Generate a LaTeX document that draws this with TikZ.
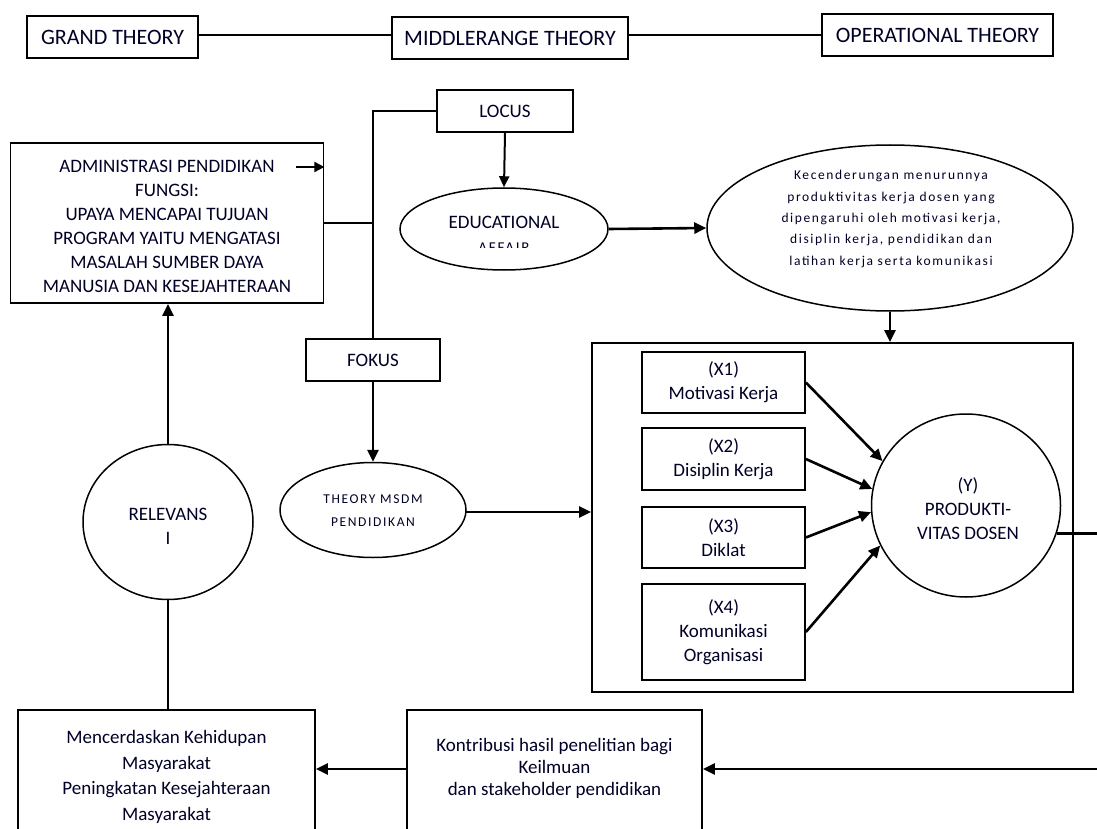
\documentclass[tikz,border=0pt]{standalone}
\usepackage{fontspec}
\setmainfont{Carlito}
\newfontfamily\spaced[LetterSpace=12]{Carlito}
\usetikzlibrary{arrows.meta,shapes.geometric}
\begin{document}
\begin{tikzpicture}[x=1pt,y=-1pt,
  box/.style={draw,line width=1.8pt,align=center,inner sep=0pt,text=black!85!blue,
    font=\fontsize{19}{24}\selectfont},
  topbox/.style={box,font=\fontsize{22}{26}\selectfont},
  oval/.style={ellipse,draw,line width=1.5pt,align=center,inner sep=0pt,text=black!85!blue},
  conn/.style={line width=2.6pt},
  arr/.style={line width=2.6pt,-{Triangle[length=12pt,width=11pt]}},
  txt/.style={align=center,inner sep=0pt,text=black!85!blue,font=\fontsize{19}{24}\selectfont}
]
\useasboundingbox (0,0) rectangle (1097,829);
\clip (0,0) rectangle (1097,829);

% top row
\node[topbox,minimum width=171,minimum height=42] (grand) at (112.5,37) {GRAND THEORY};
\node[topbox,minimum width=236,minimum height=42] (middle) at (510,38) {MIDDLERANGE THEORY};
\node[topbox,minimum width=231,minimum height=42] (oper) at (937.5,35) {OPERATIONAL THEORY};
\coordinate (tl) at (0,35);
\draw[conn] (grand.east |- tl) -- (middle.west |- tl);
\draw[conn] (middle.east |- tl) -- (oper.west |- tl);

% admin box
\node[box,minimum width=313,minimum height=160] (admin) at (167,223) {};
\node[txt] (admintxt) at (167,226) {ADMINISTRASI PENDIDIKAN\\FUNGSI:\\UPAYA MENCAPAI TUJUAN\\PROGRAM YAITU MENGATASI\\MASALAH SUMBER DAYA\\MANUSIA DAN KESEJAHTERAAN};
\coordinate (sa) at (296,167);
\draw[line width=1.8pt,-{Triangle[length=10pt,width=10pt]}] (sa) -- (sa -| admin.east);

% locus / fokus
\node[box,minimum width=136,minimum height=42] (locus) at (505,111) {LOCUS};
\node[box,minimum width=134,minimum height=42] (fokus) at (373,360) {FOKUS};
\draw[conn] (locus.west) -| (fokus.north);
\draw[conn] (admin.east) -- (admin.east -| fokus.north);

% educational affair
\node[oval,minimum width=208,minimum height=82] (edu) at (504,229) {};
\node[txt] (edut) at (504,222) {EDUCATIONAL};
\begin{scope}
\clip (400,238) rectangle (608,247);
\node[txt,anchor=base,font=\spaced\fontsize{15}{18}\selectfont] (eduaff) at (504,252) {AFFAIR};
\end{scope}
\draw[line width=2pt,-{Triangle[length=11pt,width=10pt]}] (locus.south) -- (edu.north);

% big ellipse
\node[oval,minimum width=366,minimum height=166] (big) at (890,228) {};
\node[txt,font=\spaced\fontsize{13.5}{21.3}\selectfont] (bigt) at (891,219) {Kecenderungan menurunnya\\produktivitas kerja dosen yang\\dipengaruhi oleh motivasi kerja,\\disiplin kerja, pendidikan dan\\latihan kerja serta komunikasi};
\draw[arr] (edu.east) -- (big.west);

% frame
\node[draw,line width=1.8pt,minimum width=481,minimum height=349,inner sep=0pt] (frame) at (832.5,517.5) {};
\draw[arr] (big.south) -- (frame.north -| big.south);

% theory msdm
\node[oval,minimum width=186,minimum height=95] (theory) at (373,510) {};
\node[txt,font=\spaced\fontsize{13.5}{23}\selectfont] (theoryt) at (373,511) {THEORY MSDM\\PENDIDIKAN};
\draw[arr] (fokus.south) -- (theory.north);
\coordinate (tw) at (465,512);
\draw[arr] (tw) -- (tw -| frame.west);

% X boxes
\node[box,minimum width=163,minimum height=61] (x1) at (723.5,382.5) {(X1)\\Motivasi Kerja};
\node[box,minimum width=163,minimum height=62] (x2) at (723.5,459) {(X2)\\Disiplin Kerja};
\node[box,minimum width=163,minimum height=61] (x3) at (723.5,537.5) {(X3)\\Diklat};
\node[box,minimum width=163,minimum height=96] (x4) at (723.5,632) {(X4)\\Komunikasi\\Organisasi};

% Y
\node[oval,minimum width=189,minimum height=183] (y) at (966,505.5) {};
\node[txt] (yt) at (968,509) {(Y)\\PRODUKTI-\\VITAS DOSEN};
\draw[arr] (x1.east) -- (y.152);
\draw[arr] (x2.east) -- (y.170);
\draw[arr] (x3.east) -- (y.184);
\draw[arr] (x4.east) -- (y.205);
\coordinate (r1) at (1100,532);
\draw[conn] (y.-17) -- (y.-17 -| r1);

% bottom row
\node[box,minimum width=295,minimum height=140] (kon) at (554.5,780) {};
\node[txt,font=\fontsize{19}{22}\selectfont] (kont) at (554.5,768) {Kontribusi hasil penelitian bagi\\Keilmuan\\dan stakeholder pendidikan};
\node[box,minimum width=297,minimum height=140] (men) at (166.5,780) {};
\node[txt,font=\fontsize{19}{25.5}\selectfont] (ment) at (166.5,777) {Mencerdaskan Kehidupan\\Masyarakat\\Peningkatan Kesejahteraan\\Masyarakat};
\coordinate (r2) at (1100,769);
\draw[arr] (r2) -- (r2 -| kon.east);
\coordinate (kw) at (407,769);
\draw[arr] (kw) -- (kw -| men.east);

% relevansi
\node[oval,minimum width=170,minimum height=155] (rel) at (168,522) {};
\node[txt] (relt) at (168,526) {RELEVANS\\I};
\draw[conn] (men.north -| rel.south) -- (rel.south);
\draw[arr] (rel.north) -- (rel.north |- admin.south);
\end{tikzpicture}
\end{document}
